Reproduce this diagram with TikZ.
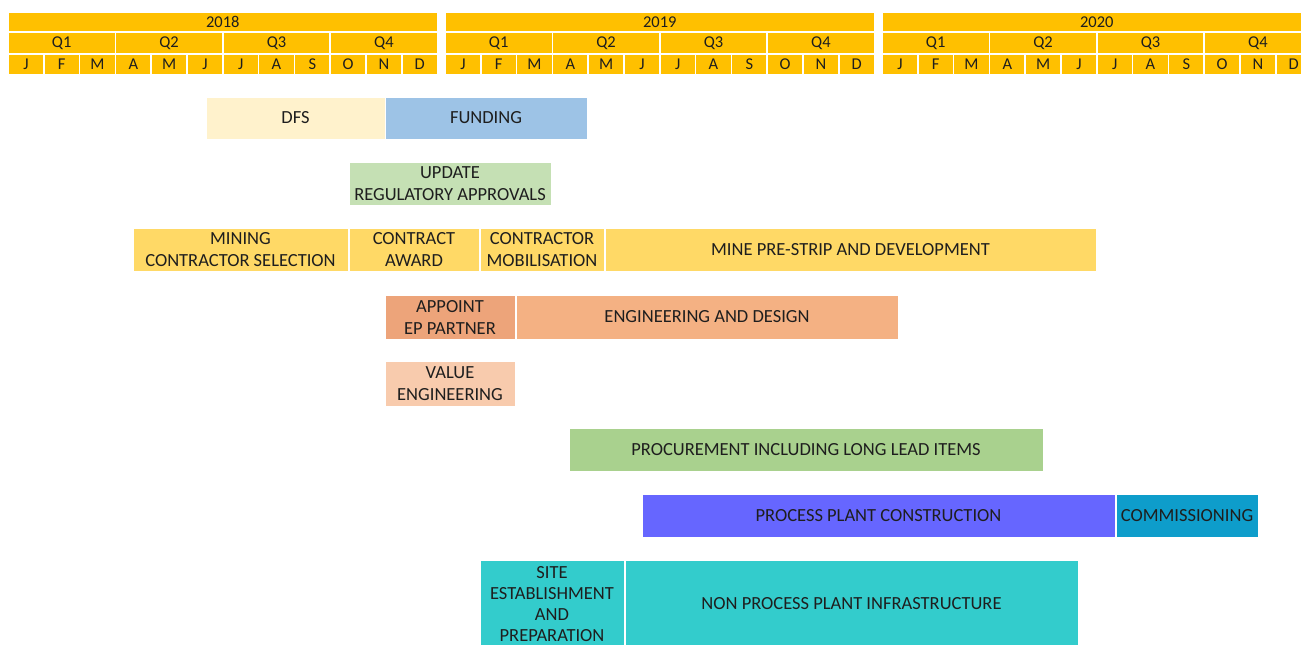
\documentclass[tikz,border=0pt]{standalone}
\usepackage{fontspec}
\setmainfont{Carlito}
\usepackage{tikz}

\definecolor{hdr}{HTML}{FFC000}
\definecolor{dfs}{HTML}{FFF2CC}
\definecolor{fund}{HTML}{9DC3E6}
\definecolor{regul}{HTML}{C5E0B4}
\definecolor{mine}{HTML}{FFD966}
\definecolor{epp}{HTML}{EDA47A}
\definecolor{eng}{HTML}{F4B183}
\definecolor{valeng}{HTML}{F8CBAD}
\definecolor{procu}{HTML}{A9D18E}
\definecolor{plant}{HTML}{6666FF}
\definecolor{comm}{HTML}{0E9DCB}
\definecolor{infra}{HTML}{33CCCC}
\definecolor{txt}{HTML}{1E1E1E}

\tikzset{
  cell/.style={fill=hdr, draw=white, line width=1.5pt, inner sep=0pt,
    text=txt, font=\fontsize{16.5}{18}\selectfont},
  task/.style={draw=white, line width=0.8pt, inner sep=0pt, align=center,
    text=txt, font=\fontsize{18.5}{22}\selectfont},
}

\begin{document}
\begin{tikzpicture}[x=1pt, y=-1pt]
\useasboundingbox (0,0) rectangle (1301,645);
% time line
\foreach \yr [count=\i from 0] in {2018,2019,2020} {
  \node[cell, minimum width=429.6, minimum height=20] (y\i) at (8+437*\i+214.8,22) {\yr};
  \foreach \q in {1,...,4}
    \node[cell, minimum width=107.4, minimum height=21] (q\i-\q) at (8+437*\i+107.4*\q-53.7,43) {Q\q};
  \foreach \mo [count=\m] in {J,F,M,A,M,J,J,A,S,O,N,D}
    \node[cell, minimum width=35.8, minimum height=21] (m\i-\m) at (8+437*\i+35.8*\m-17.9,64.5) {\mo};
}
% tasks
\node[task, fill=dfs, minimum width=179, minimum height=42] (dfs) at (295.5,118) {DFS};
\node[task, fill=fund, minimum width=202, minimum height=42] (funding) at (486,118) {FUNDING};
\node[task, fill=regul, minimum width=202, minimum height=43] (regul) at (450,183.5) {UPDATE\\REGULATORY APPROVALS};
\node[task, fill=mine, minimum width=215, minimum height=43] (select) at (240.5,249.5) {MINING\\CONTRACTOR SELECTION};
\node[task, fill=mine, minimum width=130, minimum height=43] (award) at (414,249.5) {CONTRACT\\AWARD};
\node[task, fill=mine, minimum width=124, minimum height=43] (mobil) at (542,249.5) {CONTRACTOR\\MOBILISATION};
\node[task, fill=mine, minimum width=491, minimum height=43] (strip) at (850.5,249.5) {MINE PRE-STRIP AND DEVELOPMENT};
\node[task, fill=epp, minimum width=130, minimum height=44] (appoint) at (450,317) {APPOINT\\EP PARTNER};
\node[task, fill=eng, minimum width=382, minimum height=44] (design) at (707,317) {ENGINEERING AND DESIGN};
\node[task, fill=valeng, minimum width=130, minimum height=45] (value) at (450,383.5) {VALUE\\ENGINEERING};
\node[task, fill=procu, minimum width=474, minimum height=43] (procure) at (806,449.5) {PROCUREMENT INCLUDING LONG LEAD ITEMS};
\node[task, fill=plant, minimum width=473, minimum height=43] (constr) at (878.5,515.5) {PROCESS PLANT CONSTRUCTION};
\node[task, fill=comm, minimum width=142, minimum height=43] (commis) at (1187,515.5) {COMMISSIONING};
\node[task, fill=infra, minimum width=144, minimum height=88, font=\fontsize{18.5}{21}\selectfont] (site) at (552,604) {SITE\\ESTABLISHMENT\\AND\\PREPARATION};
\node[task, fill=infra, minimum width=453, minimum height=88] (infra) at (851.5,604) {NON PROCESS PLANT INFRASTRUCTURE};
\end{tikzpicture}
\end{document}
